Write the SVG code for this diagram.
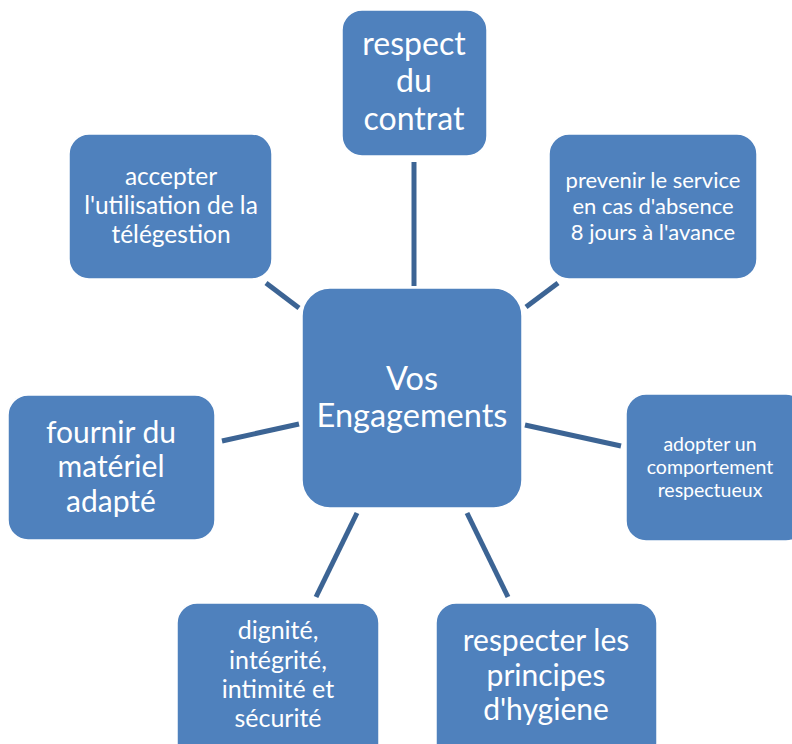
<svg xmlns="http://www.w3.org/2000/svg" width="792" height="744" viewBox="0 0 792 744">
<style>
.box{fill:#4f81bd;stroke:#ffffff;stroke-width:1.5}
.t{fill:#ffffff;font-family:Lato,"Open Sans","Liberation Sans",sans-serif;text-anchor:middle}
.c{stroke:#3c6494;stroke-width:5;fill:none}
</style>
<rect width="792" height="744" fill="#ffffff"/>
<g id="connectors">
<line class="c" x1="414" y1="162" x2="414" y2="286"/>
<line class="c" x1="266" y1="283" x2="299" y2="308"/>
<line class="c" x1="558" y1="283" x2="526" y2="307"/>
<line class="c" x1="222" y1="441" x2="299" y2="424"/>
<line class="c" x1="525" y1="425" x2="621" y2="446"/>
<line class="c" x1="357" y1="513" x2="316" y2="597"/>
<line class="c" x1="467" y1="513" x2="508" y2="597"/>
</g>
<g id="center">
<rect class="box" x="302" y="288" width="220" height="220" rx="28"/>
<text class="t" font-size="32.5"><tspan x="412" y="390">Vos</tspan><tspan x="412" y="427">Engagements</tspan></text>
</g>
<g id="top">
<rect class="box" x="342" y="10" width="145" height="146" rx="20"/>
<text class="t" font-size="32"><tspan x="414" y="55">respect</tspan><tspan x="414" y="92">du</tspan><tspan x="414" y="130">contrat</tspan></text>
</g>
<g id="topleft">
<rect class="box" x="69" y="134" width="203" height="145" rx="20"/>
<text class="t" font-size="24.5"><tspan x="171" y="185">accepter</tspan><tspan x="171" y="214">l'utilisation de la</tspan><tspan x="171" y="243">télégestion</tspan></text>
</g>
<g id="topright">
<rect class="box" x="549" y="134" width="208" height="145" rx="20"/>
<text class="t" font-size="22"><tspan x="653" y="188">prevenir le service</tspan><tspan x="653" y="214">en cas d'absence</tspan><tspan x="653" y="240">8 jours à l'avance</tspan></text>
</g>
<g id="left">
<rect class="box" x="8" y="395" width="207" height="145" rx="20"/>
<text class="t" font-size="30"><tspan x="111" y="443">fournir du</tspan><tspan x="111" y="477">matériel</tspan><tspan x="111" y="512">adapté</tspan></text>
</g>
<g id="right">
<rect class="box" x="626" y="394" width="180" height="147" rx="20"/>
<text class="t" font-size="19.5"><tspan x="710" y="451">adopter un</tspan><tspan x="710" y="474">comportement</tspan><tspan x="710" y="497">respectueux</tspan></text>
</g>
<g id="bottomleft">
<rect class="box" x="177" y="603" width="202" height="160" rx="20"/>
<text class="t" font-size="25"><tspan x="278" y="639">dignité,</tspan><tspan x="278" y="669">intégrité,</tspan><tspan x="278" y="698">intimité et</tspan><tspan x="278" y="727">sécurité</tspan></text>
</g>
<g id="bottomright">
<rect class="box" x="436" y="603" width="221" height="160" rx="20"/>
<text class="t" font-size="30"><tspan x="546" y="651">respecter les</tspan><tspan x="546" y="686">principes</tspan><tspan x="546" y="720">d'hygiene</tspan></text>
</g>
</svg>
